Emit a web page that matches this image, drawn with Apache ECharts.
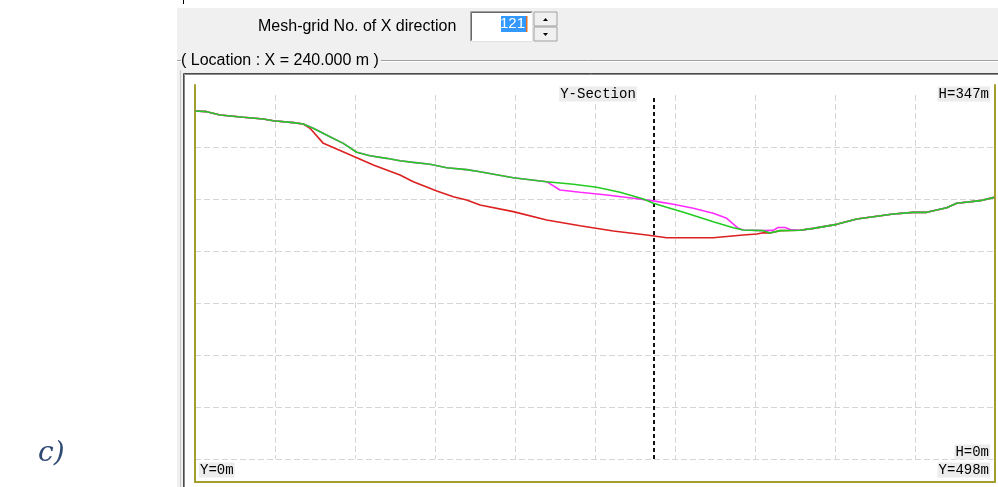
<!DOCTYPE html>
<html><head><meta charset="utf-8">
<script src="https://cdn.jsdelivr.net/npm/echarts@6/dist/echarts.min.js"></script>
<style>html,body{margin:0;padding:0;background:#fff}#c{width:998px;height:487px}</style>
</head><body><div id="c"></div>
<script>
// ---- data (Y distance in m, elevation H in m) ----
const greenY = [0,7.3,15.6,30.1,42.5,48.7,61.2,67.4,73.6,84.0,92.3,100.7,108.9,119.3,127.6,135.9,146.3,156.7,169.1,177.4,198.1,218.9,235.5,250.1,264.6,279.1,285.3,293.6,306.1,322.6,335.1,341.3,353.8,357.9,364.2,376.6,384.9,399.5,411.9,422.2,434.7,447.1,455.5,461.7,467.9,474.2,488.7,497.5];
const greenH = [324.3,323.7,320.8,318.8,317.3,315.8,314.1,312.9,309.2,301.8,296.0,288.2,285.2,282.9,280.8,279.4,277.7,274.7,273.0,271.2,266.0,262.5,260.2,257.6,253.2,247.4,243.6,240.1,234.9,227.5,222.3,220.3,219.7,217.6,219.7,220.0,221.7,225.2,229.9,231.9,234.2,235.7,235.7,237.7,239.7,243.6,245.9,248.8];

const redY = [0,7.3,15.6,30.1,42.5,48.7,61.2,67.4,71.6,79.9,88.2,100.7,111.0,119.3,127.6,135.9,150.5,160.8,169.1,177.4,198.1,218.9,239.7,260.4,281.2,293.6,322.6,341.3,349.7,353.8,357.9,364.2,376.6,384.9,399.5,411.9,422.2,434.7,447.1,455.5,461.7,467.9,474.2,488.7,497.5];
const redH = [324.3,323.7,320.8,318.8,317.3,315.8,314.1,312.9,309.2,296.0,291.1,283.5,277.1,272.7,268.3,262.5,254.4,249.4,246.5,242.1,236.3,229.0,224.0,219.4,215.9,213.5,213.5,215.9,216.8,217.9,217.6,219.7,220.0,221.7,225.2,229.9,231.9,234.2,235.7,235.7,237.7,239.7,243.6,245.9,248.8];

const magentaY = [0,7.3,15.6,30.1,42.5,48.7,61.2,67.4,73.6,84.0,92.3,100.7,108.9,119.3,127.6,135.9,146.3,156.7,169.1,177.4,198.1,218.9,227.2,239.7,256.3,272.8,285.3,297.7,310.2,322.6,331.0,338.2,341.3,353.8,359.8,363.0,367.4,370.5,376.6,384.9,399.5,411.9,422.2,434.7,447.1,455.5,461.7,467.9,474.2,488.7,497.5];
const magentaH = [324.3,323.7,320.8,318.8,317.3,315.8,314.1,312.9,309.2,301.8,296.0,288.2,285.2,282.9,280.8,279.4,277.7,274.7,273.0,271.2,266.0,262.5,255.2,253.3,250.9,248.0,245.7,242.7,239.2,234.9,230.5,221.7,220.3,219.7,219.9,222.5,222.5,220.7,220.0,221.7,225.2,229.9,231.9,234.2,235.7,235.7,237.7,239.7,243.6,245.9,248.8];

const sectionY = [285.7];
const yRange = [0, 498];
const hRange = [0, 347];
const labels = { top: 'Y-Section', hTop: 'H=347m', hBottom: 'H=0m', yLeft: 'Y=0m', yRight: 'Y=498m' };

const zip = (a, b) => a.map((v, i) => [v, b[i]]);

const chart = echarts.init(document.getElementById('c'), null, {renderer: 'canvas'});
const olive = '#a39e2e';
const gridLine = {color: '#d6d6d6', type: [6, 3], width: 1};
const mono = '14px "Liberation Mono", "DejaVu Sans Mono", monospace';
const hide = {axisTick: {show: false}, axisLabel: {show: false}};

const option = {
  animation: false,
  backgroundColor: '#ffffff',
  grid: [
    {left: 195, right: 3, top: 85, bottom: 5},
    {left: 195, right: 3, top: 95, bottom: 28}
  ],
  xAxis: [
    Object.assign({gridIndex: 0, type: 'value', min: yRange[0], max: yRange[1], z: 3,
      axisLine: {show: true, onZero: false, lineStyle: {color: olive, width: 2}}, splitLine: {show: false}}, hide),
    Object.assign({gridIndex: 1, type: 'value', min: yRange[0], max: yRange[1], interval: 49.8, z: 2,
      axisLine: {show: false}, splitLine: {show: true, showMinLine: false, showMaxLine: false, lineStyle: gridLine}}, hide)
  ],
  yAxis: [
    Object.assign({gridIndex: 0, type: 'value', min: hRange[0], max: hRange[1], z: 3, position: 'left',
      axisLine: {show: true, onZero: false, lineStyle: {color: olive, width: 2}}, splitLine: {show: false}}, hide),
    Object.assign({gridIndex: 0, type: 'value', min: hRange[0], max: hRange[1], z: 3, position: 'right',
      axisLine: {show: true, onZero: false, lineStyle: {color: olive, width: 2}}, splitLine: {show: false}}, hide),
    Object.assign({gridIndex: 1, type: 'value', min: 0, max: 7, interval: 1, z: 2,
      axisLine: {show: false}, splitLine: {show: true, showMinLine: true, showMaxLine: false, lineStyle: gridLine}}, hide)
  ],
  series: [
    {type: 'line', xAxisIndex: 1, yAxisIndex: 2, data: [], z: 4, silent: true,
      markLine: {silent: true, symbol: ['none', 'none'], label: {show: false},
        lineStyle: {color: '#111', type: [4, 3], width: 2},
        data: sectionY.map(v => ({xAxis: v}))}},
    {name: 'red', type: 'line', xAxisIndex: 0, yAxisIndex: 0, data: zip(redY, redH), showSymbol: false, z: 5,
      lineStyle: {color: '#dd2020', width: 1.6}},
    {name: 'magenta', type: 'line', xAxisIndex: 0, yAxisIndex: 0, data: zip(magentaY, magentaH), showSymbol: false, z: 6,
      lineStyle: {color: '#ff2cff', width: 1.6}},
    {name: 'green', type: 'line', xAxisIndex: 0, yAxisIndex: 0, data: zip(greenY, greenH), showSymbol: false, z: 7,
      lineStyle: {color: '#22cc22', width: 1.6}}
  ],
  graphic: [
    // window panel
    {type: 'rect', z: -5, shape: {x: 177, y: 8, width: 821, height: 479}, style: {fill: '#f0f0f0'}},
    {type: 'rect', z: -5, shape: {x: 183, y: 0, width: 1, height: 4}, style: {fill: '#000'}},
    // group box etched line
    {type: 'line', z: -4, shape: {x1: 177, y1: 60.5, x2: 998, y2: 60.5}, style: {stroke: '#a0a0a0', lineWidth: 1}},
    {type: 'line', z: -4, shape: {x1: 177, y1: 61.5, x2: 998, y2: 61.5}, style: {stroke: '#ffffff', lineWidth: 1}},
    {type: 'text', z: -3, x: 181, y: 61, style: {text: '( Location : X = 240.000 m )', font: '16px "Liberation Sans", Arial, sans-serif',
      fill: '#000', verticalAlign: 'middle', backgroundColor: '#f0f0f0', padding: [0, 2, 0, 0]}},
    // mesh grid label
    {type: 'text', z: -3, x: 258, y: 27, style: {text: 'Mesh-grid No. of X direction', font: '16px "Liberation Sans", Arial, sans-serif',
      fill: '#000', verticalAlign: 'middle'}},
    // input box
    {type: 'rect', z: -3, shape: {x: 470, y: 11, width: 63, height: 31}, style: {fill: '#ffffff'}},
    {type: 'polyline', z: -2, shape: {points: [[470.5, 41.5], [470.5, 11.5], [532.5, 11.5]]}, style: {stroke: '#a0a0a0', fill: null, lineWidth: 1}},
    {type: 'polyline', z: -2, shape: {points: [[471.5, 40.5], [471.5, 12.5], [531.5, 12.5]]}, style: {stroke: '#696969', fill: null, lineWidth: 1}},
    {type: 'polyline', z: -2, shape: {points: [[470.5, 41.5], [532.5, 41.5], [532.5, 11.5]]}, style: {stroke: '#e3e3e3', fill: null, lineWidth: 1}},
    {type: 'rect', z: -2, shape: {x: 501, y: 16, width: 25, height: 16}, style: {fill: '#3399ff'}},
    {type: 'text', z: -1, x: 525, y: 24, style: {text: '121', font: '15px "Liberation Sans", Arial, sans-serif', fill: '#ffffff',
      align: 'right', verticalAlign: 'middle'}},
    {type: 'rect', z: -1, shape: {x: 526, y: 16, width: 1.5, height: 16}, style: {fill: '#e07020'}},
    // spinner
    {type: 'rect', z: -3, shape: {x: 534, y: 12, width: 23, height: 14}, style: {fill: '#f0f0f0', stroke: '#a0a0a0', lineWidth: 1}},
    {type: 'rect', z: -3, shape: {x: 534, y: 27, width: 23, height: 14}, style: {fill: '#f0f0f0', stroke: '#a0a0a0', lineWidth: 1}},
    {type: 'polygon', z: -2, shape: {points: [[543, 21], [548, 21], [545.5, 18]]}, style: {fill: '#000'}},
    {type: 'polygon', z: -2, shape: {points: [[543, 33], [548, 33], [545.5, 36]]}, style: {fill: '#000'}},
    // plot frame
    {type: 'rect', z: -3, shape: {x: 183, y: 73, width: 815, height: 414}, style: {fill: '#ffffff'}},
    {type: 'polyline', z: -2, shape: {points: [[183.5, 487], [183.5, 73.5], [998, 73.5]]}, style: {stroke: '#4a4a4a', fill: null, lineWidth: 1}},
    {type: 'polyline', z: -2, shape: {points: [[184.5, 487], [184.5, 74.5], [998, 74.5]]}, style: {stroke: '#8a8a8a', fill: null, lineWidth: 1}},
    {type: 'line', z: -2, shape: {x1: 180.5, y1: 70, x2: 180.5, y2: 487}, style: {stroke: '#c8c8c8', lineWidth: 1}},
    // corner labels
    {type: 'text', z: 20, x: 598, y: 94, style: {text: labels.top, font: mono, fill: '#000', align: 'center', verticalAlign: 'middle',
      backgroundColor: '#ececec', padding: [1, 1, 0, 1]}},
    {type: 'text', z: 20, x: 990, y: 94, style: {text: labels.hTop, font: mono, fill: '#000', align: 'right', verticalAlign: 'middle',
      backgroundColor: '#ececec', padding: [1, 1, 0, 1]}},
    {type: 'text', z: 20, x: 990, y: 452, style: {text: labels.hBottom, font: mono, fill: '#000', align: 'right', verticalAlign: 'middle',
      backgroundColor: '#ececec', padding: [1, 1, 0, 1]}},
    {type: 'text', z: 20, x: 990, y: 470, style: {text: labels.yRight, font: mono, fill: '#000', align: 'right', verticalAlign: 'middle',
      backgroundColor: '#ececec', padding: [1, 1, 0, 1]}},
    {type: 'text', z: 20, x: 199, y: 470, style: {text: labels.yLeft, font: mono, fill: '#000', align: 'left', verticalAlign: 'middle',
      backgroundColor: '#ececec', padding: [1, 1, 0, 1]}},
    // panel label
    {type: 'text', z: 20, x: 38, y: 454, style: {text: 'c)', font: 'italic 28px "DejaVu Serif", "Liberation Serif", serif',
      fill: '#2e4a72', verticalAlign: 'middle'}}
  ]
};
chart.setOption(option);
</script>
</body></html>
